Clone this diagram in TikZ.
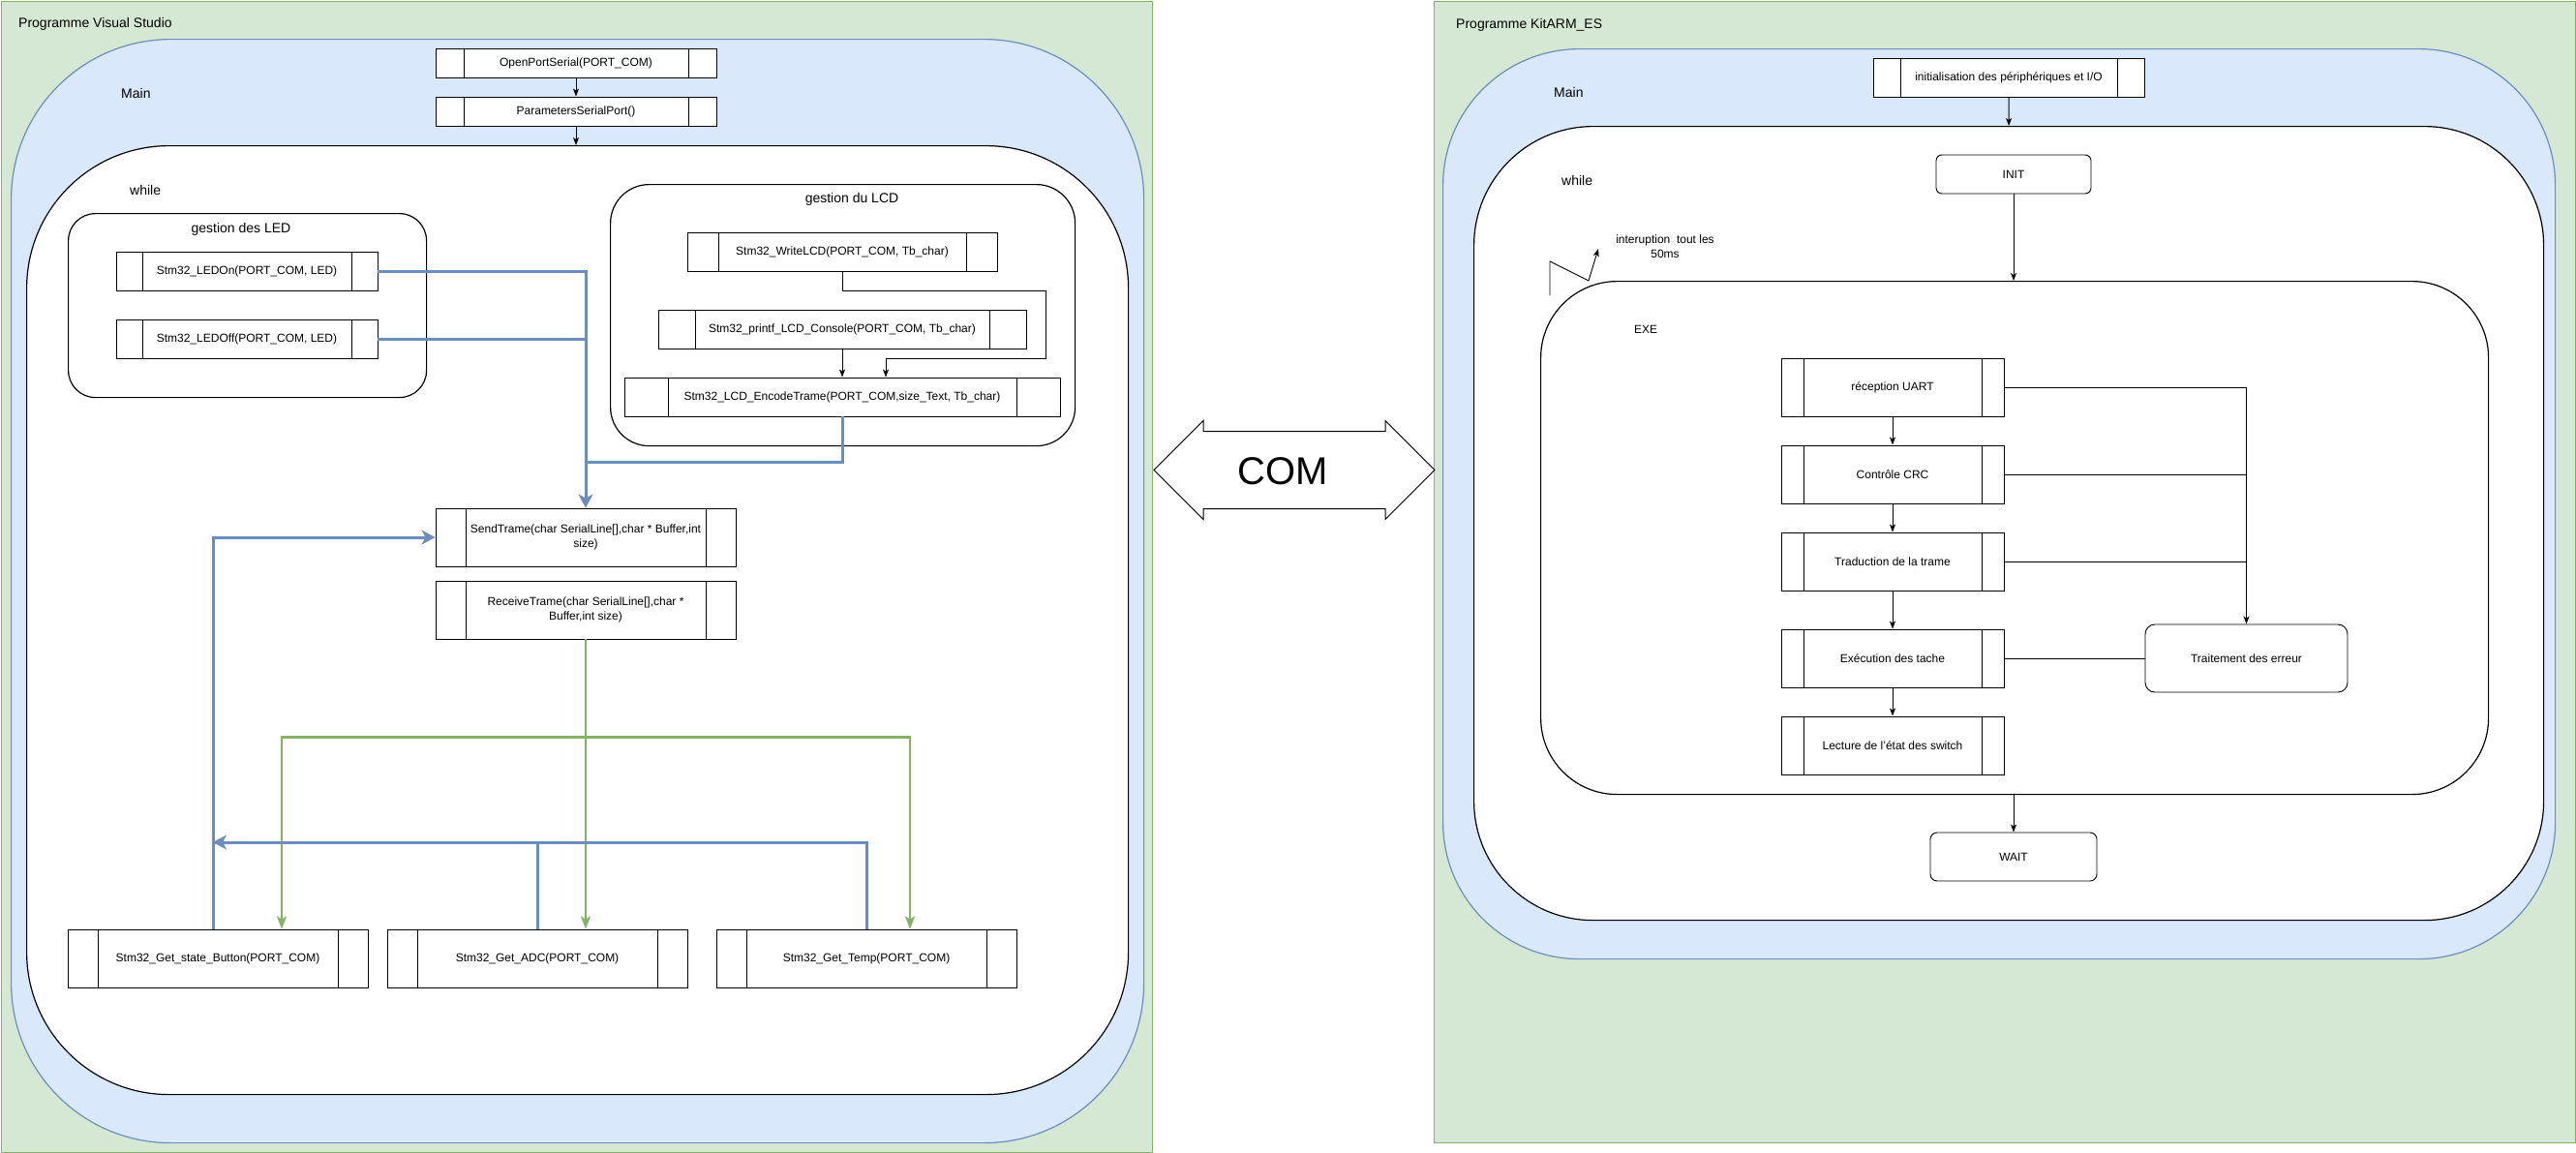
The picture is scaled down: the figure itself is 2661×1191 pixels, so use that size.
\documentclass[tikz,border=0pt]{standalone}
\usepackage{fontspec}
\setmainfont{Liberation Sans}
\usetikzlibrary{arrows.meta,calc,shapes.arrows}
\definecolor{vert}{HTML}{D5E8D4}
\definecolor{vertbord}{HTML}{82B366}
\definecolor{bleu}{HTML}{DAE8FC}
\definecolor{bleubord}{HTML}{6C8EBF}
\begin{document}
\begin{tikzpicture}[x=1pt,y=-1pt]
\tikzstyle{cadre}=[draw=vertbord, fill=vert, line width=1.2pt, anchor=north west, inner sep=0]
\tikzstyle{zone}=[draw=bleubord, fill=bleu, line width=1.2pt, anchor=north west, inner sep=0]
\tikzstyle{boucle}=[draw, fill=white, line width=1.2pt, anchor=north west, inner sep=0]
\tikzstyle{proc}=[draw, fill=white, line width=0.9pt, inner sep=2pt, align=center, font=\fontsize{12}{14.5}\selectfont,
  path picture={\draw[line width=0.9pt] let \p1=(path picture bounding box.south west), \p2=(path picture bounding box.north east), \n1={0.1*(\x2-\x1)} in (\x1+\n1,\y1) -- (\x1+\n1,\y2) (\x2-\n1,\y1) -- (\x2-\n1,\y2);}]
\tikzstyle{rond}=[draw, fill=white, line width=0.9pt, align=center, font=\fontsize{12}{14.5}\selectfont]
\tikzstyle{etiq}=[anchor=west, inner sep=0, font=\fontsize{14}{16}\selectfont]
\tikzstyle{fleche}=[-{Stealth[length=8pt,width=6pt,inset=2pt]}, line width=0.9pt]
\tikzstyle{lienbleu}=[draw=bleubord, line width=3pt]
\tikzstyle{bout}=[-{Stealth[length=14pt,width=15pt,inset=4pt]}]
\tikzstyle{lienvert}=[draw=vertbord, line width=2.5pt, -{Stealth[length=13pt,width=10pt,inset=3pt]}]
\useasboundingbox (0,0) rectangle (2661,1191);
\node[cadre, minimum width=1189pt, minimum height=1189pt] (progVS) at (0.6,0.6) {};
\node[cadre, minimum width=1179pt, minimum height=1179pt] (progARM) at (1481,0.6) {};
\node[etiq] (titreVS) at (19,25) {Programme Visual Studio};
\node[etiq] (titreARM) at (1504,26) {Programme KitARM\_ES};
\node[zone, rounded corners=165pt, minimum width=1170pt, minimum height=1140pt] (mainVS) at (11,40) {};
\node[boucle, rounded corners=147pt, minimum width=1138pt, minimum height=980pt] (whileVS) at (27,150) {};
\node[etiq] (mainVSlab) at (125,96) {Main};
\node[etiq] (whileVSlab) at (134,196) {while};
\node[proc, minimum width=290pt, minimum height=30pt] (openport) at (595,65) {OpenPortSerial(PORT\_COM)};
\node[proc, minimum width=290pt, minimum height=30pt] (params) at (595,115) {ParametersSerialPort()};
\node[boucle, rounded corners=28pt, minimum width=370pt, minimum height=190pt] (gestLED) at (70,220) {};
\node[font=\fontsize{14}{16}\selectfont] (gestLEDlab) at (249,237) {gestion des LED};
\node[proc, minimum width=270pt, minimum height=40pt] (ledon) at (255,280) {Stm32\_LEDOn(PORT\_COM, LED)};
\node[proc, minimum width=270pt, minimum height=40pt] (ledoff) at (255,350) {Stm32\_LEDOff(PORT\_COM, LED)};
\node[boucle, rounded corners=40pt, minimum width=480pt, minimum height=270pt] (gestLCD) at (630,190) {};
\node[font=\fontsize{14}{16}\selectfont] (gestLCDlab) at (880,206) {gestion du LCD};
\node[proc, minimum width=320pt, minimum height=40pt] (writelcd) at (870,260) {Stm32\_WriteLCD(PORT\_COM, Tb\_char)};
\node[proc, minimum width=380pt, minimum height=40pt] (printflcd) at (870,340) {Stm32\_printf\_LCD\_Console(PORT\_COM, Tb\_char)};
\node[proc, minimum width=450pt, minimum height=40pt] (encode) at (870,410) {Stm32\_LCD\_EncodeTrame(PORT\_COM,size\_Text, Tb\_char)};
\node[proc, minimum width=310pt, minimum height=60pt] (send) at (605,555) {SendTrame(char SerialLine[],char * Buffer,int\\size)};
\node[proc, minimum width=310pt, minimum height=60pt] (receive) at (605,630) {ReceiveTrame(char SerialLine[],char *\\Buffer,int size)};
\node[proc, minimum width=310pt, minimum height=60pt] (button) at (225,990) {Stm32\_Get\_state\_Button(PORT\_COM)};
\node[proc, minimum width=310pt, minimum height=60pt] (adc) at (555,990) {Stm32\_Get\_ADC(PORT\_COM)};
\node[proc, minimum width=310pt, minimum height=60pt] (temp) at (895,990) {Stm32\_Get\_Temp(PORT\_COM)};
\coordinate (retour) at (220,870);
\draw[fleche] (openport) -- (params);
\draw[fleche] (params.south) -- (params.south |- whileVS.north);
\draw[fleche] (writelcd.south) -- ++(0,20) -| ++(210,70) -| ([xshift=45]encode.north);
\draw[fleche] (printflcd) -- (encode);
\draw[lienbleu, bout] (ledon.east) -| (send.north);
\draw[lienbleu] (ledoff.east) -- (ledoff.east -| send.north);
\draw[lienbleu] (encode.south) |- ($(send.north)+(0,-47)$);
\draw[lienvert] (receive.south) -- (adc.north -| receive.south);
\draw[lienvert] (receive.south) -- ++(0,101) -| ([xshift=66]button.north);
\draw[lienvert] (receive.south) -- ++(0,101) -| ([xshift=45]temp.north);
\draw[lienbleu, bout] ([xshift=-5]button.north) |- (send.west);
\draw[lienbleu] (temp.north) |- (retour);
\draw[lienbleu, bout] (adc.north) |- (retour);
\node[draw, fill=white, line width=1pt, double arrow, double arrow head extend=11pt, minimum height=290pt, minimum width=101pt, inner xsep=0, inner ysep=25pt, text height=29pt, text depth=0pt, font=\fontsize{40}{48}\selectfont] (com) at (1337,485.5) {COM\kern24pt};
\node[zone, rounded corners=141pt, minimum width=1149pt, minimum height=940pt] (mainARM) at (1490,50) {};
\node[boucle, rounded corners=123pt, minimum width=1105pt, minimum height=820pt] (whileARM) at (1522,130) {};
\node[etiq] (mainARMlab) at (1605,95) {Main};
\node[etiq] (whileARMlab) at (1613,186) {while};
\node[proc, minimum width=280pt, minimum height=40pt] (initperiph) at (2075,80) {initialisation des périphériques et I/O};
\node[rond, rounded corners=6pt, minimum width=160pt, minimum height=40pt] (INIT) at (2080,180) {INIT};
\node[boucle, rounded corners=79pt, minimum width=979pt, minimum height=530pt] (EXE) at (1591,290) {};
\node[etiq, font=\fontsize{12}{14}\selectfont] (EXElab) at (1688,340) {EXE};
\node[proc, minimum width=230pt, minimum height=60pt] (uart) at (1955,400) {réception UART};
\node[proc, minimum width=230pt, minimum height=60pt] (crc) at (1955,490) {Contrôle CRC};
\node[proc, minimum width=230pt, minimum height=60pt] (trad) at (1955,580) {Traduction de la trame};
\node[proc, minimum width=230pt, minimum height=60pt] (exec) at (1955,680) {Exécution des tache};
\node[proc, minimum width=230pt, minimum height=60pt] (lect) at (1955,770) {Lecture de l'état des switch};
\node[rond, rounded corners=10pt, minimum width=209pt, minimum height=70pt] (erreur) at (2320.5,680) {Traitement des erreur};
\node[rond, rounded corners=7pt, minimum width=172pt, minimum height=50pt] (WAIT) at (2080,885) {WAIT};
\node[align=center, font=\fontsize{12}{15}\selectfont] (interup) at (1720,255) {interuption\ \ tout les\\50ms};
\draw[fleche] (initperiph) -- (whileARM.north);
\draw[fleche] (INIT) -- (INIT |- EXE.north);
\draw[fleche] (uart) -- (crc);
\draw[fleche] (crc) -- (trad);
\draw[fleche] (trad) -- (exec);
\draw[fleche] (exec) -- (lect);
\draw[fleche] (uart.east) -| (erreur.north);
\draw[line width=0.9pt] (crc.east) -- (crc.east -| erreur.north);
\draw[line width=0.9pt] (trad.east) -- (trad.east -| erreur.north);
\draw[line width=0.9pt] (exec) -- (erreur);
\draw[fleche] (EXE.south -| WAIT.north) -- (WAIT.north);
\draw[fleche] (1601,305) -- (1601,270) -- (1641,290) -- (1651,257);
\end{tikzpicture}
\end{document}
